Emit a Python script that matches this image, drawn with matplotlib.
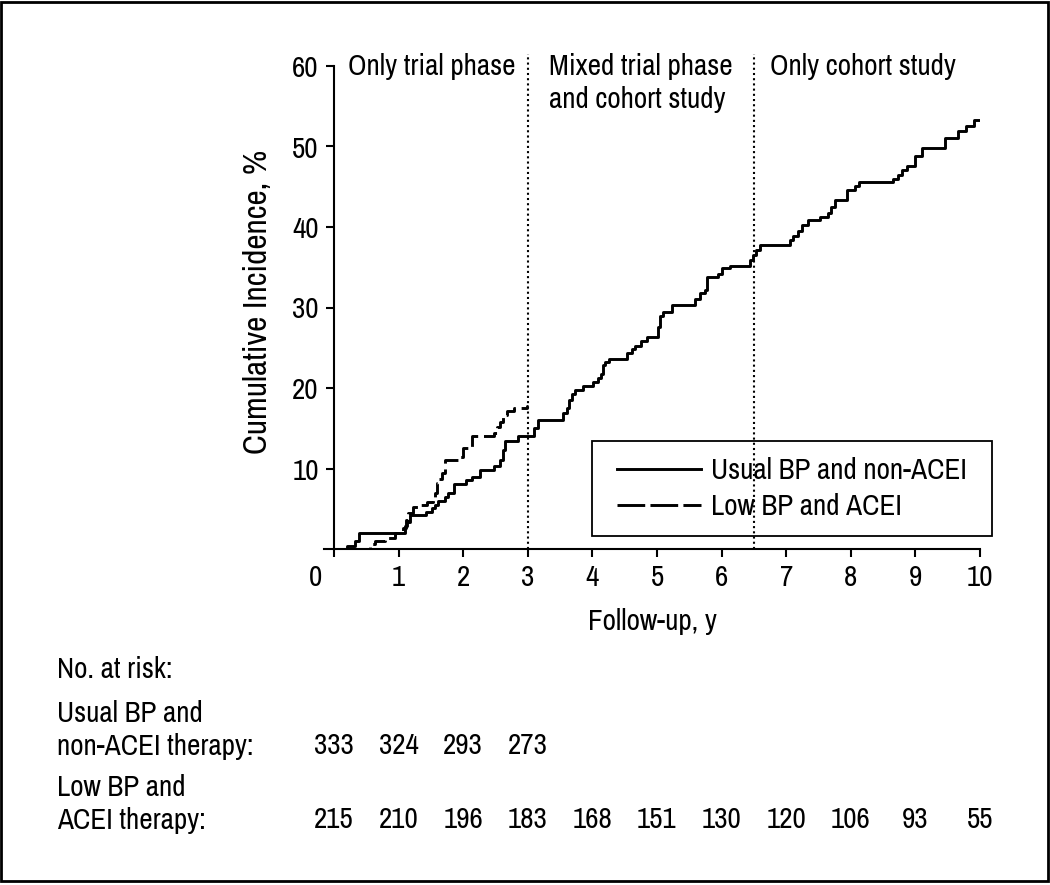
"""Cumulative incidence plot with number-at-risk table."""
import matplotlib
matplotlib.use('Agg')
from matplotlib import pyplot as plt
from matplotlib import rc
from matplotlib.lines import Line2D
from matplotlib.patches import Rectangle

rc('font', family=['Archivo Narrow', 'Roboto Condensed', 'DejaVu Sans'], size=21)

# Usual BP and non-ACEI (solid)
usual_t = [0.00, 0.20, 0.33, 0.39, 1.10, 1.135, 1.18, 1.43, 1.51, 1.56, 1.61,
           1.72, 1.77, 1.85, 2.05, 2.13, 2.26, 2.47, 2.57, 2.61, 2.65, 2.85,
           3.09, 3.16, 3.55, 3.60, 3.64, 3.69, 3.73, 3.86, 4.01, 4.09, 4.14,
           4.17, 4.20, 4.25, 4.53, 4.61, 4.66, 4.76, 4.84, 5.02, 5.05, 5.10,
           5.23, 5.59, 5.67, 5.74, 5.77, 5.95, 6.00, 6.13, 6.44, 6.49, 6.54,
           6.59, 7.06, 7.11, 7.19, 7.24, 7.34, 7.52, 7.65, 7.70, 7.76, 7.94,
           8.07, 8.12, 8.66, 8.73, 8.79, 8.87, 8.99, 9.10, 9.46, 9.66, 9.79,
           9.90, 10.00]
usual_v = [0.0, 0.4, 1.0, 2.0, 2.8, 3.4, 4.2, 4.6, 5.1, 5.5, 6.0,
           6.5, 7.0, 8.1, 8.6, 9.0, 9.8, 10.3, 11.0, 12.3, 13.4, 14.0,
           15.0, 16.0, 16.9, 17.5, 18.5, 19.3, 19.8, 20.3, 20.7, 21.2, 21.8,
           22.8, 23.2, 23.6, 24.3, 24.9, 25.2, 25.9, 26.3, 27.6, 28.9, 29.4,
           30.3, 31.1, 31.8, 32.2, 33.8, 34.2, 34.9, 35.2, 35.9, 36.5, 37.1,
           37.8, 38.4, 38.9, 39.5, 40.2, 40.9, 41.3, 41.7, 42.5, 43.3, 44.6,
           45.1, 45.6, 46.0, 46.5, 47.1, 47.6, 48.8, 49.8, 51.0, 51.9, 52.5,
           53.3, 53.3]

# Low BP and ACEI (dashed)
low_t = [0.00, 0.55, 0.64, 0.79, 0.94, 1.07, 1.11, 1.15, 1.23, 1.33, 1.44,
         1.53, 1.56, 1.59, 1.63, 1.67, 1.72, 1.95, 2.00, 2.13, 2.47, 2.52,
         2.57, 2.61, 2.68, 2.78, 2.98, 3.00]
low_v = [0.0, 0.6, 1.0, 1.4, 2.0, 2.6, 3.6, 4.5, 5.25, 5.5, 5.8,
         6.2, 7.0, 8.2, 8.7, 9.4, 11.0, 11.4, 12.5, 14.0, 14.4, 15.2,
         15.8, 16.6, 17.1, 17.5, 17.8, 17.8]

phase_bounds = [3.0, 6.5]
phase_labels = ['Only trial phase', 'Mixed trial phase\nand cohort study',
                'Only cohort study']
phase_x = [0.22, 3.33, 6.75]

risk_years = list(range(11))
risk_usual = [333, 324, 293, 273]
risk_low = [215, 210, 196, 183, 168, 151, 130, 120, 106, 93, 55]

fig = plt.figure(figsize=(10.5, 8.85), dpi=100)
x_lo = -0.15
left_px = 334 + x_lo * 64.6
ax = fig.add_axes([left_px / 1050, 1 - 549 / 885,
                   (980 - left_px) / 1050, (549 - 66) / 885 * 61.5 / 60])

ax.step(usual_t, usual_v, where='post', color='k', lw=2.1)
ax.step(low_t, low_v, where='post', color='k', lw=2.1, dashes=(5.5, 2))

for xb in phase_bounds:
    ax.axvline(xb, color='k', lw=1.5, linestyle=(0, (1, 1.5)))
for xp, lab in zip(phase_x, phase_labels):
    for i, line in enumerate(lab.split('\n')):
        ax.text(xp, 58.9 - 4.1 * i, line, ha='left', va='baseline')

ax.set_xlim(x_lo, 10)
ax.set_ylim(0, 61.5)
ax.set_xticks(range(11))
ax.set_xticklabels([''] + [str(i) for i in range(1, 11)])
ax.set_yticks(range(10, 61, 10))
ax.annotate('0', xy=(0, 0), xytext=(-19, -29), textcoords='offset pixels',
            ha='center', va='center')
ax.spines['top'].set_visible(False)
ax.spines['right'].set_visible(False)
ax.spines['left'].set_position(('data', 0))
ax.spines['left'].set_bounds(0, 60)
ax.spines['bottom'].set_bounds(x_lo, 10)
for s in ('left', 'bottom'):
    ax.spines[s].set_linewidth(1.5)
ax.tick_params(direction='out', length=6, width=1.5, pad=5)
ax.set_xlabel('Follow-up, y', labelpad=12)
ax.set_ylabel('Cumulative Incidence, %', labelpad=14, fontsize=24)

# legend: own frame, contents centred in it
box_l, box_t, box_r, box_b = 592, 441, 992, 536
fig.patches.append(Rectangle((box_l / 1050, 1 - box_b / 885),
                             (box_r - box_l) / 1050, (box_b - box_t) / 885,
                             fill=False, edgecolor='k', lw=1.3,
                             transform=fig.transFigure))
handles = [Line2D([], [], color='k', lw=2.1),
           Line2D([], [], color='k', lw=2.1, dashes=(9.5, 1.8))]
ax.legend(handles, ['Usual BP and non-ACEI', 'Low BP and ACEI'],
          loc='center', frameon=False,
          bbox_to_anchor=((box_l + box_r) / 2 / 1050, 1 - (box_t + box_b) / 2 / 885),
          bbox_transform=fig.transFigure, borderaxespad=0, borderpad=0,
          handlelength=2.88, handletextpad=0.33, labelspacing=0.32)

# number at risk table
def fx(t):
    return (334 + 64.6 * t) / 1050

def fy(py):
    return 1 - py / 885

fig.text(57 / 1050, fy(670), 'No. at risk:', va='center')
fig.text(57 / 1050, fy(713), 'Usual BP and', va='center')
fig.text(57 / 1050, fy(747), 'non-ACEI therapy:', va='center')
fig.text(57 / 1050, fy(787), 'Low BP and', va='center')
fig.text(57 / 1050, fy(821), 'ACEI therapy:', va='center')
for t, n in zip(risk_years, risk_usual):
    fig.text(fx(t), fy(745), str(n), ha='center', va='center')
for t, n in zip(risk_years, risk_low):
    fig.text(fx(t), fy(820), str(n), ha='center', va='center')

fig.patches.append(Rectangle((0.001, 0.004), 0.997, 0.994, fill=False,
                             edgecolor='k', lw=2, transform=fig.transFigure))

fig.savefig('out.png', dpi=100)
